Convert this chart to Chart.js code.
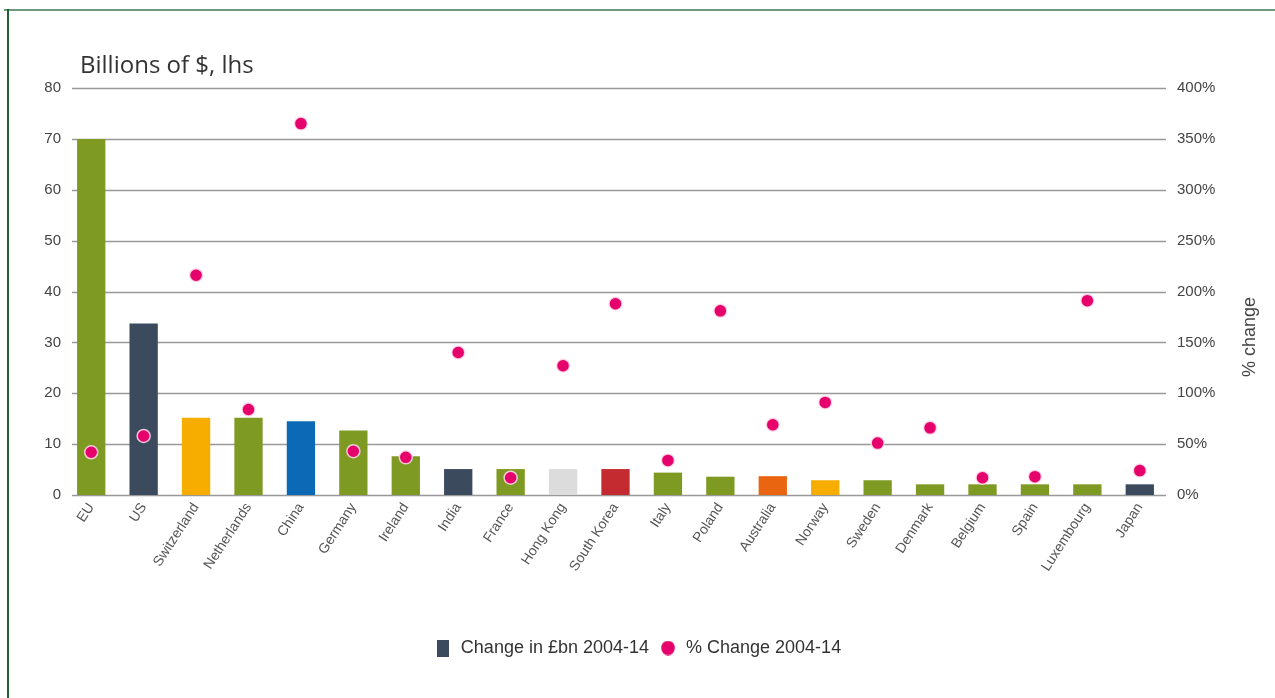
<!DOCTYPE html>
<html>
<head>
<meta charset="utf-8">
<script src="https://cdn.jsdelivr.net/npm/chart.js@4"></script>
<style>
  html, body { margin: 0; padding: 0; background: #ffffff; }
  #wrap { position: relative; width: 1275px; height: 698px; overflow: hidden; background: #fff; }
  #c { position: absolute; left: 0; top: 0; }
  #topline { position: absolute; left: 4px; top: 9px; width: 1271px; height: 2px; background: #6d9a7c; }
  #leftline { position: absolute; left: 7px; top: 9px; width: 2px; height: 689px; background: #1f5f33; }
</style>
</head>
<body>
<div id="wrap">
  <canvas id="c" width="1275" height="698"></canvas>
  <div id="topline"></div>
  <div id="leftline"></div>
</div>
<script>
const categories = ['EU','US','Switzerland','Netherlands','China','Germany','Ireland','India','France','Hong Kong','South Korea','Italy','Poland','Australia','Norway','Sweden','Denmark','Belgium','Spain','Luxembourg','Japan'];
const changeBn = [70, 33.7, 15.2, 15.2, 14.5, 12.7, 7.6, 5.1, 5.1, 5.1, 5.1, 4.4, 3.6, 3.7, 2.9, 2.9, 2.1, 2.1, 2.1, 2.1, 2.1];
const pctChange = [42, 58, 216, 84, 365, 43, 37, 140, 17, 127, 188, 34, 181, 69, 91, 51, 66, 17, 18, 191, 24];
const leftTicks = [0, 10, 20, 30, 40, 50, 60, 70, 80];
const rightTicks = [0, 50, 100, 150, 200, 250, 300, 350, 400];
const seriesNames = ['Change in £bn 2004-14', '% Change 2004-14'];
const leftTitle = 'Billions of $, lhs';
const rightTitle = '% change';

const GREEN = '#7f9a23', DARK = '#3c4a5e', YELLOW = '#f6ad00', BLUE = '#0b69b5', GREY = '#dcdcdc', RED = '#c42b30', ORANGE = '#ea6510';
const barColors = [GREEN, DARK, YELLOW, GREEN, BLUE, GREEN, GREEN, DARK, GREEN, GREY, RED, GREEN, GREEN, ORANGE, YELLOW, GREEN, GREEN, GREEN, GREEN, GREEN, DARK];
const PINK = '#e5006b';
const FONT = '"Liberation Sans", Arial, sans-serif';

// legend swatches
const sq = document.createElement('canvas'); sq.width = 12; sq.height = 17;
{ const g = sq.getContext('2d'); g.fillStyle = DARK; g.fillRect(0, 0, 12, 17); }
const ci = document.createElement('canvas'); ci.width = 14; ci.height = 15;
{ const g = ci.getContext('2d'); g.fillStyle = PINK; g.beginPath(); g.ellipse(7, 7.5, 6.8, 7.3, 0, 0, Math.PI * 2); g.fill(); }

const gridPlugin = {
  id: 'grid',
  beforeDatasetsDraw(chart) {
    const ctx = chart.ctx, ys = chart.scales.y, area = chart.chartArea;
    ctx.save();
    ctx.strokeStyle = '#999999';
    ctx.lineWidth = 1.6;
    leftTicks.forEach(v => {
      const py = Math.round(ys.getPixelForValue(v)) + 0.5;
      ctx.beginPath();
      ctx.moveTo(72, py);
      ctx.lineTo(area.right, py);
      ctx.stroke();
    });
    ctx.restore();
  }
};

const textPlugin = {
  id: 'texts',
  afterDraw(chart) {
    const ctx = chart.ctx;
    ctx.save();
    ctx.fillStyle = '#333';
    ctx.font = '24px "Open Sans", sans-serif';
    ctx.textBaseline = 'alphabetic';
    ctx.textAlign = 'left';
    ctx.fillText(leftTitle, 80, 73);
    ctx.translate(1250, 337);
    ctx.rotate(-Math.PI / 2);
    ctx.textAlign = 'center';
    ctx.textBaseline = 'middle';
    ctx.font = '18px ' + FONT;
    ctx.fillStyle = '#444';
    ctx.fillText(rightTitle, 0, 0);
    ctx.restore();
  }
};

new Chart(document.getElementById('c'), {
  data: {
    labels: categories,
    datasets: [
      {
        type: 'line',
        label: seriesNames[1],
        data: pctChange,
        yAxisID: 'y1',
        showLine: false,
        pointRadius: 6.5,
        pointHoverRadius: 6.5,
        pointBackgroundColor: PINK,
        pointBorderColor: 'rgba(255,225,238,0.85)',
        pointBorderWidth: 1.5,
        order: 0
      },
      {
        type: 'bar',
        label: seriesNames[0],
        data: changeBn,
        yAxisID: 'y',
        backgroundColor: barColors,
        borderWidth: 0,
        categoryPercentage: 0.54,
        barPercentage: 1.0,
        order: 1
      }
    ]
  },
  options: {
    responsive: false,
    animation: false,
    layout: { padding: { top: 88, left: 0, right: 0, bottom: 31 } },
    plugins: {
      tooltip: { enabled: false },
      legend: {
        position: 'bottom',
        labels: {
          usePointStyle: true,
          padding: 10,
          font: { family: FONT, size: 18 },
          color: '#333',
          generateLabels() {
            return [
              { text: seriesNames[0], fillStyle: DARK, strokeStyle: DARK, lineWidth: 0, pointStyle: sq, datasetIndex: 1, hidden: false, fontColor: '#333' },
              { text: seriesNames[1], fillStyle: PINK, strokeStyle: PINK, lineWidth: 0, pointStyle: ci, datasetIndex: 0, hidden: false, fontColor: '#333' }
            ];
          }
        }
      }
    },
    scales: {
      x: {
        offset: true,
        grid: { display: false, drawTicks: false },
        border: { display: false },
        ticks: {
          minRotation: 57,
          maxRotation: 57,
          padding: 5,
          autoSkip: false,
          color: '#555',
          font: { family: FONT, size: 14 }
        },
        afterFit(s) { s.height = 134; }
      },
      y: {
        position: 'left',
        min: 0, max: 80,
        afterBuildTicks(s) { s.ticks = leftTicks.map(v => ({ value: v })); },
        grid: { display: false, drawTicks: false },
        border: { display: false },
        ticks: {
          padding: 4,
          color: '#444',
          font: { family: FONT, size: 15 }
        },
        afterFit(s) { s.width = 65; }
      },
      y1: {
        position: 'right',
        min: 0, max: 400,
        afterBuildTicks(s) { s.ticks = rightTicks.map(v => ({ value: v })); },
        grid: { display: false, drawTicks: false },
        border: { display: false },
        ticks: {
          padding: 11,
          color: '#444',
          font: { family: FONT, size: 15 },
          callback: v => v + '%'
        },
        afterFit(s) { s.width = 109; }
      }
    }
  },
  plugins: [gridPlugin, textPlugin]
});
</script>
</body>
</html>
